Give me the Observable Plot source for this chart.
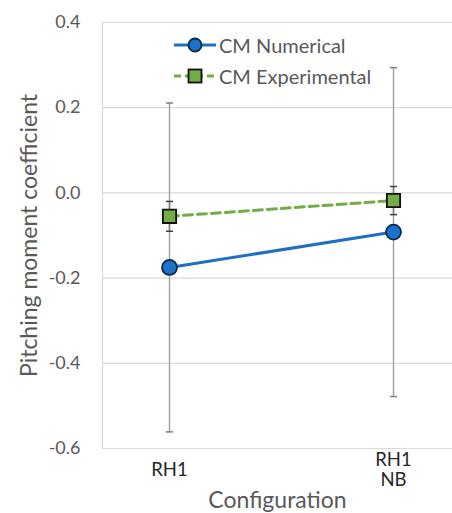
<!DOCTYPE html>
<html>
<head>
<meta charset="utf-8">
<script src="https://cdn.jsdelivr.net/npm/d3@7"></script>
<script src="https://cdn.jsdelivr.net/npm/@observablehq/plot@0.6"></script>
<style>
  html, body { margin: 0; padding: 0; background: #fff; }
  #wrap { position: relative; width: 452px; height: 513px; font-family: Lato, "Open Sans", sans-serif; }
  #wrap g[aria-label="y-axis label"], #wrap g[aria-label="x-axis label"] { font-size: 23px; }
  #wrap g[aria-label="x-axis label"] text { fill: #595959; }
  #legend { position: absolute; left: 173px; top: 29px; font-size: 20px; color: #595959; }
  #legend .row { display: flex; align-items: center; height: 31px; }
  #legend svg { margin-right: 2px; }
</style>
</head>
<body>
<div id="wrap"></div>
<script>
const categories = ["RH1", "RH1 NB"];
const numerical = [-0.175, -0.092];
const numericalErr = [0.386, 0.386];
const experimental = [-0.055, -0.018];
const experimentalErr = [0.035, 0.033];
const yTicks = [-0.6, -0.4, -0.2, 0.0, 0.2, 0.4];
const seriesNames = ["CM Numerical", "CM Experimental"];

const blue = "#1f70c1";
const blueFill = "#1a73c9";
const green = "#70ad47";
const errGray = "#a6a6a6";

const num = categories.map((c, i) => ({cat: c, v: numerical[i], lo: numerical[i] - numericalErr[i], hi: numerical[i] + numericalErr[i]}));
const exp = categories.map((c, i) => ({cat: c, v: experimental[i], lo: experimental[i] - experimentalErr[i], hi: experimental[i] + experimentalErr[i]}));

const capSymbol = {draw(ctx, size) { const w = Math.sqrt(size) / 2; ctx.moveTo(-w, 0); ctx.lineTo(w, 0); }};

const chart = Plot.plot({
  width: 452,
  height: 513,
  marginLeft: 102,
  marginRight: 0,
  marginTop: 22,
  marginBottom: 65,
  style: {fontFamily: "Lato, 'Open Sans', sans-serif", background: "#fff"},
  x: {type: "point", domain: categories, range: [169, 393], padding: 0},
  y: {domain: [-0.6, 0.4], ticks: yTicks},
  marks: [
    Plot.gridY(yTicks, {stroke: "#d9d9d9", strokeOpacity: 1, strokeWidth: 1.2}),
    Plot.frame({anchor: "left", stroke: "#d9d9d9", strokeWidth: 1.2}),
    Plot.axisY(yTicks, {tickSize: 0, tickPadding: 22, tickFormat: d => d.toFixed(1), fontSize: 18, fill: "#595959",
      label: "Pitching moment coefficient", labelAnchor: "center", labelArrow: "none", labelOffset: 82}),
    Plot.axisX(categories, {tickSize: 0, tickPadding: 21, lineAnchor: "middle", lineHeight: 1.1, tickFormat: d => d.replace(" ", "\n"), fontSize: 18.5, fill: "#262626",
      label: "Configuration", labelAnchor: "center", labelArrow: "none", labelOffset: 59}),
    // error bars (numerical)
    Plot.ruleX(num, {x: "cat", y1: "lo", y2: "hi", stroke: errGray, strokeWidth: 1.5}),
    Plot.dot(num, {x: "cat", y: "lo", symbol: capSymbol, r: 4, stroke: "#7f7f7f", strokeWidth: 1.5}),
    Plot.dot(num, {x: "cat", y: "hi", symbol: capSymbol, r: 4, stroke: "#7f7f7f", strokeWidth: 1.5}),
    // error bars (experimental)
    Plot.ruleX(exp, {x: "cat", y1: "lo", y2: "hi", stroke: "#7f7f7f", strokeWidth: 1.5}),
    Plot.dot(exp, {x: "cat", y: "lo", symbol: capSymbol, r: 4, stroke: "#404040", strokeWidth: 1.5}),
    Plot.dot(exp, {x: "cat", y: "hi", symbol: capSymbol, r: 4, stroke: "#404040", strokeWidth: 1.5}),
    // lines
    Plot.line(exp, {x: "cat", y: "v", stroke: green, strokeWidth: 3, strokeDasharray: "9,5"}),
    Plot.line(num, {x: "cat", y: "v", stroke: blue, strokeWidth: 3}),
    Plot.dot(exp, {x: "cat", y: "v", symbol: "square", r: 7.5, fill: green, stroke: "#111", strokeWidth: 1.8}),
    Plot.dot(num, {x: "cat", y: "v", symbol: "circle", r: 7.5, fill: blueFill, stroke: "#0d2a4a", strokeWidth: 1.8})
  ]
});

const wrap = document.getElementById("wrap");
wrap.appendChild(chart);

const legend = document.createElement("div");
legend.id = "legend";
const swatches = [
  `<svg width="44" height="20"><line x1="1" x2="43" y1="10" y2="10" stroke="${blue}" stroke-width="3"/><circle cx="22" cy="10" r="6.5" fill="${blueFill}" stroke="#0d2a4a" stroke-width="1.8"/></svg>`,
  `<svg width="44" height="20"><line x1="1" x2="43" y1="10" y2="10" stroke="${green}" stroke-width="3" stroke-dasharray="7,4"/><rect x="15.5" y="3.5" width="13" height="13" fill="${green}" stroke="#111" stroke-width="1.8"/></svg>`
];
seriesNames.forEach((name, i) => {
  const row = document.createElement("div");
  row.className = "row";
  row.innerHTML = swatches[i] + `<span>${name}</span>`;
  legend.appendChild(row);
});
wrap.appendChild(legend);
</script>
</body>
</html>
